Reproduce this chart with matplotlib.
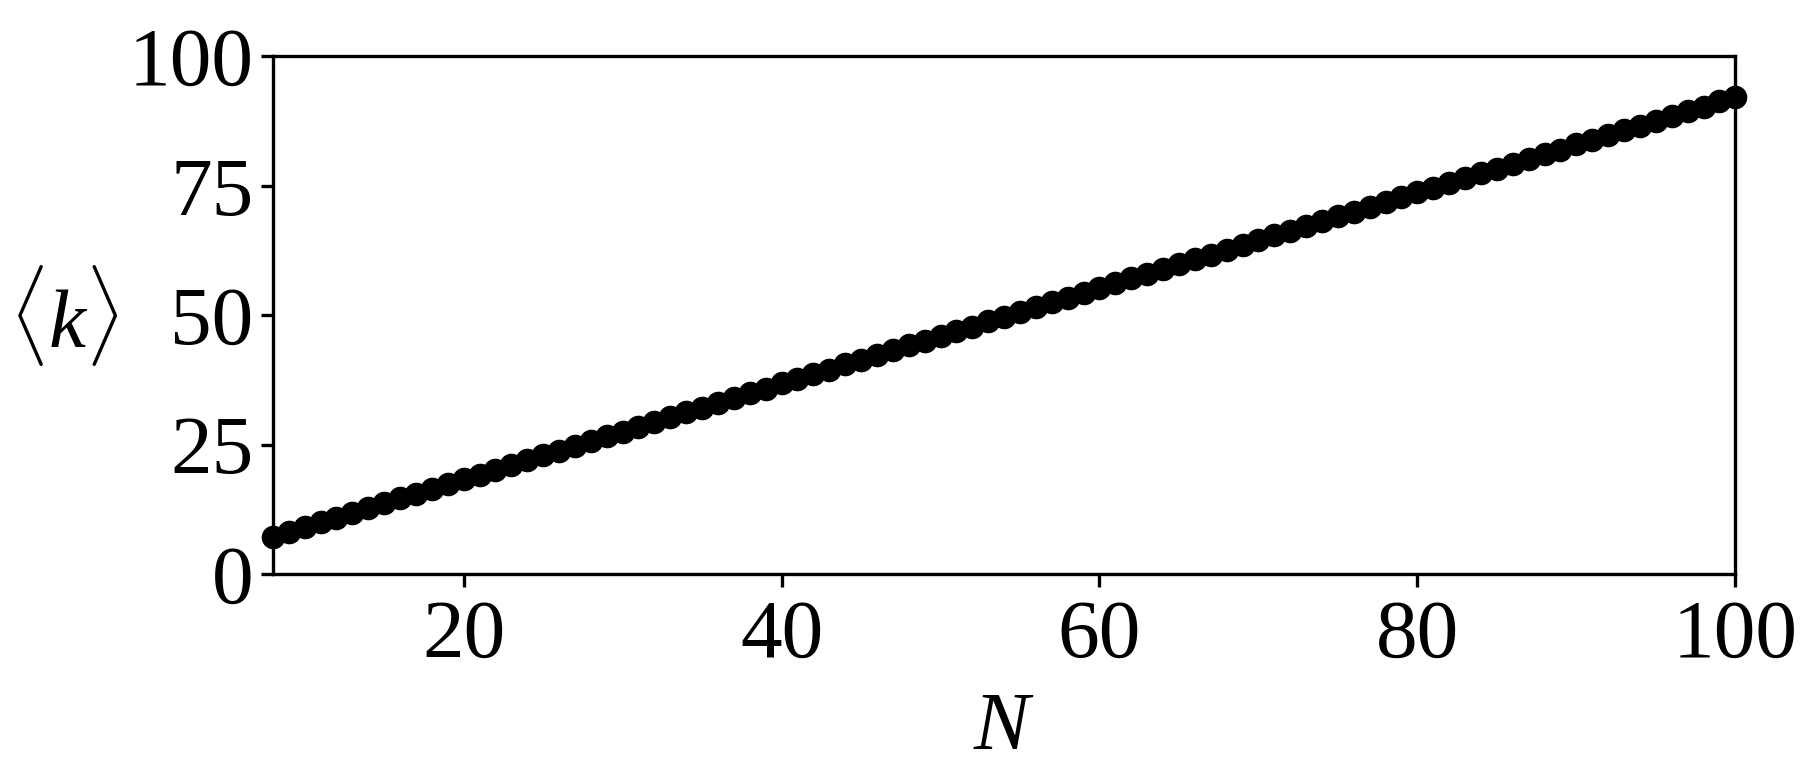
import matplotlib
matplotlib.use("Agg")
import matplotlib.pyplot as plt

plt.rcParams['font.family'] = 'Liberation Serif'
plt.rcParams['mathtext.fontset'] = 'custom'
plt.rcParams['mathtext.rm'] = 'Liberation Serif'
plt.rcParams['mathtext.it'] = 'Liberation Serif:italic'

# network size N and mean degree <k>
N = list(range(8, 101))
k_mean = [
    7.2, 8.1, 9.0, 10.0, 10.9, 11.8, 12.7, 13.7, 14.6, 15.5,
    16.4, 17.4, 18.3, 19.2, 20.1, 21.1, 22.0, 22.9, 23.8, 24.8,
    25.7, 26.6, 27.5, 28.4, 29.4, 30.3, 31.2, 32.1, 33.1, 34.0,
    34.9, 35.8, 36.8, 37.7, 38.6, 39.5, 40.5, 41.4, 42.3, 43.2,
    44.2, 45.1, 46.0, 46.9, 47.8, 48.8, 49.7, 50.6, 51.5, 52.5,
    53.4, 54.3, 55.2, 56.2, 57.1, 58.0, 58.9, 59.9, 60.8, 61.7,
    62.6, 63.6, 64.5, 65.4, 66.3, 67.2, 68.2, 69.1, 70.0, 70.9,
    71.9, 72.8, 73.7, 74.6, 75.6, 76.5, 77.4, 78.3, 79.3, 80.2,
    81.1, 82.0, 83.0, 83.9, 84.8, 85.7, 86.6, 87.6, 88.5, 89.4,
    90.3, 91.3, 92.2,
]

fig = plt.figure(figsize=(18.19, 7.83), dpi=100)
ax = fig.add_axes([0.150, 0.267, 0.804, 0.661])
ax.plot(N, k_mean, 'o', color='black', markersize=16, clip_on=False, zorder=3)

ax.set_xlim(8, 100)
ax.set_ylim(0, 100)
ax.set_xticks([20, 40, 60, 80, 100])
ax.set_yticks([0, 25, 50, 75, 100])
ax.tick_params(labelsize=60, width=2.4, length=9, pad=5)
ax.tick_params(axis='x', pad=9)
for s in ax.spines.values():
    s.set_linewidth(2.4)

ax.set_xlabel(r'$N$', fontsize=60, va='center')
ax.xaxis.set_label_coords(0.5, -0.30)
ax.set_ylabel(r'$\langle k\rangle$', fontsize=60, rotation=0, ha='center', va='center')
ax.yaxis.set_label_coords(-0.143, 0.5)

plt.savefig('out.png', dpi=100)
